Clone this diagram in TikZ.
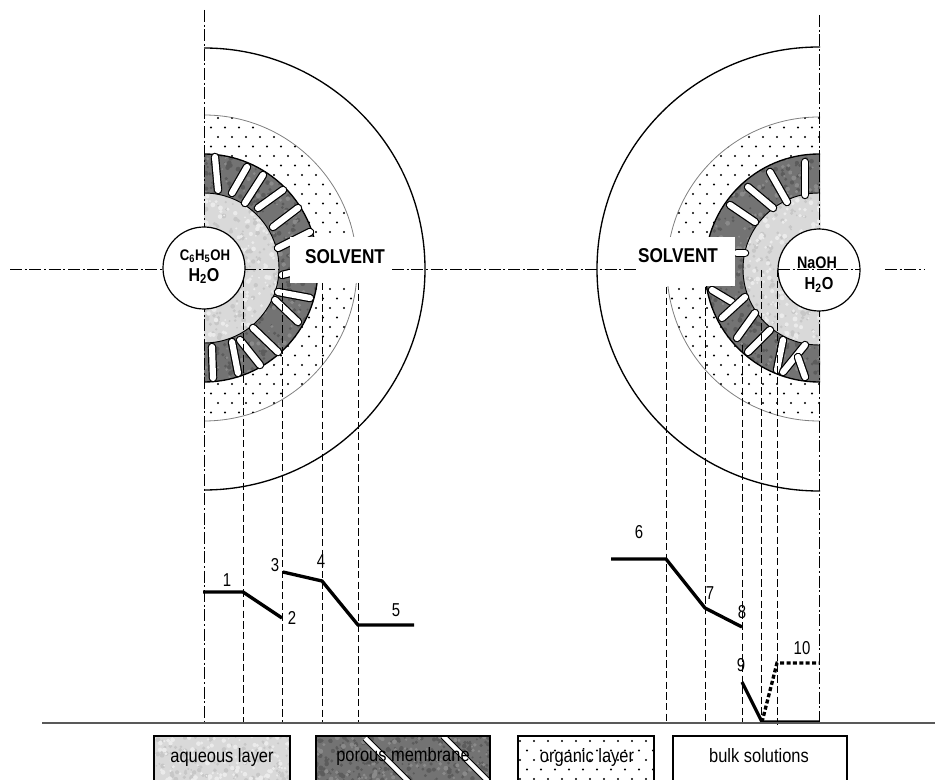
\documentclass[tikz,border=0pt]{standalone}
\usepackage{fontspec}
\setmainfont{Liberation Sans}
\definecolor{porousgray}{gray}{0.45}
\definecolor{porousdark}{gray}{0.36}
\definecolor{porouslight}{gray}{0.54}
\definecolor{aqueousgray}{gray}{0.85}
\definecolor{aqueousdark}{gray}{0.78}
\definecolor{aqueouslight}{gray}{0.92}
\newcommand{\speckle}[6]{%
  \foreach \k in {1,...,#5}{%
    \fill[#6] ({#1+rnd*(#3-#1)},{#2+rnd*(#4-#2)}) circle ({0.9+rnd*1.6});
  }}
\newcommand{\dotfield}[4]{%
  \foreach \row in {0,...,#4}{%
    \foreach \col in {0,...,#3}{%
      \fill ({#1+\col*14+mod(\row,2)*7},{#2+\row*9.5}) circle (1.15);
    }}}
\begin{document}
\begin{tikzpicture}[x=0.75pt,y=-0.75pt,
    every node/.style={inner sep=0pt},
    wide/.style={font=\fontsize{14.5}{16}\selectfont,xscale=.85,transform shape},
    solventlabel/.style={font=\fontsize{15}{17}\selectfont\bfseries,xscale=.86,transform shape},
    innerlabel/.style={font=\fontsize{#1}{14}\selectfont\bfseries,xscale=.86,transform shape},
    axisline/.style={line width=0.6pt,dash pattern=on 9pt off 2pt on 1.5pt off 2pt},
    guideline/.style={line width=0.7pt,dash pattern=on 5.5pt off 2.5pt},
    profile/.style={line width=2.5pt},
    porewall/.style={line width=6.4pt,line cap=round,black},
    porefill/.style={line width=4.6pt,line cap=round,white},
    numlabel/.style={font=\fontsize{14}{16}\selectfont,xscale=.8,transform shape}]
  \useasboundingbox (0,0) rectangle (935,780);
  \pgfmathsetseed{4711}
  % LEFT : PHENOL SIDE
  \begin{scope}
    \clip (204,0) rectangle (600,780);
    \draw[line width=1pt] (204,269) circle (221);
    \draw[line width=0.6pt,gray] (204,268) circle (153);
    \begin{scope}
      \clip (204,268) circle (153);
      \dotfield{204}{118}{11}{32}
    \end{scope}
    \fill[porousgray] (204,268) circle (114);
    \begin{scope}
      \clip (204,268) circle (114);
      \speckle{204}{154}{318}{382}{420}{porousdark}
      \speckle{204}{154}{318}{382}{220}{porouslight}
    \end{scope}
    \draw[line width=1pt] (204,268) circle (114);
    \fill[aqueousgray] (204,268) circle (75);
    \begin{scope}
      \clip (204,268) circle (75);
      \speckle{204}{193}{279}{343}{170}{aqueousdark}
      \speckle{204}{193}{279}{343}{170}{aqueouslight}
    \end{scope}
    \draw[line width=0.7pt] (204,268) circle (75);
    \foreach \xa/\ya/\xb/\yb in {215/157/218/190,247/167/232/193,263/175/245/203,
        283/190/258/208,298/208/273/227,310/232/278/248,290/273/282/275,310/298/278/292,
        298/322/275/300,278/352/253/328,260/365/240/340,238/373/232/342,213/378/212/347}{
      \draw[porewall] (\xa,\ya) -- (\xb,\yb);
      \draw[porefill] (\xa,\ya) -- (\xb,\yb);
    }
  \end{scope}
  % RIGHT : NAOH SIDE
  \begin{scope}
    \clip (400,0) rectangle (820,780);
    \draw[line width=1pt] (819,269) circle (222);
    \draw[line width=0.6pt,gray] (819,269) circle (152);
    \begin{scope}
      \clip (819,269) circle (152);
      \dotfield{665}{118}{11}{32}
    \end{scope}
    \fill[porousgray] (819,268) circle (114);
    \begin{scope}
      \clip (819,268) circle (114);
      \speckle{705}{154}{820}{382}{420}{porousdark}
      \speckle{705}{154}{820}{382}{220}{porouslight}
    \end{scope}
    \draw[line width=1pt] (819,268) circle (114);
    \fill[aqueousgray] (819,269) circle (76);
    \begin{scope}
      \clip (819,269) circle (76);
      \speckle{743}{193}{820}{345}{170}{aqueousdark}
      \speckle{743}{193}{820}{345}{170}{aqueouslight}
    \end{scope}
    \draw[line width=0.7pt] (819,269) circle (76);
    \foreach \xa/\ya/\xb/\yb in {805/162/805/195,770/172/787/202,748/187/773/208,
        730/205/755/222,737/253/745/253,712/290/732/302,722/318/745/297,737/338/755/313,
        748/352/770/330,777/370/783/340,783/372/805/345,805/377/798/357}{
      \draw[porewall] (\xa,\ya) -- (\xb,\yb);
      \draw[porefill] (\xa,\ya) -- (\xb,\yb);
    }
  \end{scope}
  % WHITE GAPS
  \fill[white] (290,237) rectangle (400,283);
  \fill[white] (620,237) rectangle (735,286);
  % AXES
  \draw[axisline] (204,10) -- (204,723);
  \draw[axisline] (819,15) -- (819,723);
  \draw[axisline] (10,269) -- (163,269);
  \draw[axisline] (244,269) -- (279,269);
  \draw[axisline] (392,269) -- (638,269);
  \draw[axisline] (885,269) -- (925,269);
  % GUIDES
  \draw[guideline] (243,280) -- (243,723);
  \draw[guideline] (282,272) -- (282,723);
  \draw[guideline] (322,283) -- (322,723);
  \draw[guideline] (358,283) -- (358,723);
  \draw[guideline] (666,287) -- (666,723);
  \draw[guideline] (705,287) -- (705,723);
  \draw[guideline] (742,345) -- (742,723);
  \draw[guideline] (761,270) -- (761,723);
  \draw[guideline] (777,270) -- (777,726);
  % INNER CIRCLES
  \draw[line width=0.9pt,fill=white] (204,268) circle (41);
  \draw[line width=0.9pt,fill=white] (819,270) circle (41);
  \draw[axisline] (778,269) -- (860,269);
  \node[solventlabel] (solventa) at (345,257) {SOLVENT};
  \node[solventlabel] (solventb) at (678,256) {SOLVENT};
  \node[innerlabel=11.5] (phenol) at (205,256) {C\textsubscript{6}H\textsubscript{5}OH};
  \node[innerlabel=14] (watera) at (204,276) {H\textsubscript{2}O};
  \node[innerlabel=12.5] (naoh) at (817,263) {NaOH};
  \node[innerlabel=13] (waterb) at (819,285) {H\textsubscript{2}O};
  % PROFILES
  \draw[profile] (203,592) -- (243,592) -- (282,618);
  \draw[profile] (283,572) -- (322,581) -- (358,625) -- (414,625);
  \draw[profile] (611,559) -- (666,559) -- (705,608) -- (742,627);
  \draw[profile] (742,682) -- (762,722) -- (819,722);
  \draw[profile,dash pattern=on 3pt off 1.8pt] (762,722) -- (777,663) -- (819,663);
  \node[numlabel] (n1) at (227,580) {1};
  \node[numlabel] (n2) at (292,618) {2};
  \node[numlabel] (n3) at (275,565) {3};
  \node[numlabel] (n4) at (321,561) {4};
  \node[numlabel] (n5) at (396,610) {5};
  \node[numlabel] (n6) at (639,532) {6};
  \node[numlabel] (n7) at (710,593) {7};
  \node[numlabel] (n8) at (742,612) {8};
  \node[numlabel] (n9) at (741,665) {9};
  \node[numlabel] (n10) at (802,648) {10};
  % BASELINE
  \draw[line width=1pt,black!65] (42,723) -- (935,723);
  % LEGEND
  \begin{scope}
    \clip (154,736) rectangle (290,782);
    \fill[aqueousgray] (154,736) rectangle (290,782);
    \speckle{154}{736}{290}{782}{120}{aqueousdark}
    \speckle{154}{736}{290}{782}{120}{aqueouslight}
  \end{scope}
  \draw[line width=0.8pt] (154,736) rectangle (290,782);
  \node[wide] (aqueous) at (222,757) {aqueous layer};
  \begin{scope}
    \clip (316,736) rectangle (490,782);
    \fill[porousgray] (316,736) rectangle (490,782);
    \speckle{316}{736}{490}{782}{220}{porousdark}
    \speckle{316}{736}{490}{782}{110}{porouslight}
    \foreach \xa/\ya/\xb/\yb in {365/738/409/782,443/736/488/781}{
      \draw[line width=5pt,black] (\xa,\ya) -- (\xb,\yb);
      \draw[line width=3.4pt,white] (\xa,\ya) -- (\xb,\yb);
    }
  \end{scope}
  \draw[line width=0.8pt] (316,736) rectangle (490,782);
  \node[wide] (porous) at (403,756) {porous membrane};
  \begin{scope}
    \clip (518,736) rectangle (654,782);
    \dotfield{520}{741}{10}{4}
  \end{scope}
  \draw[line width=0.8pt] (518,736) rectangle (654,782);
  \node[wide] (organic) at (587,757) {organic layer};
  \draw[line width=0.8pt] (673,736) rectangle (847,782);
  \node[wide] (bulk) at (759,756) {bulk solutions};
\end{tikzpicture}
\end{document}
